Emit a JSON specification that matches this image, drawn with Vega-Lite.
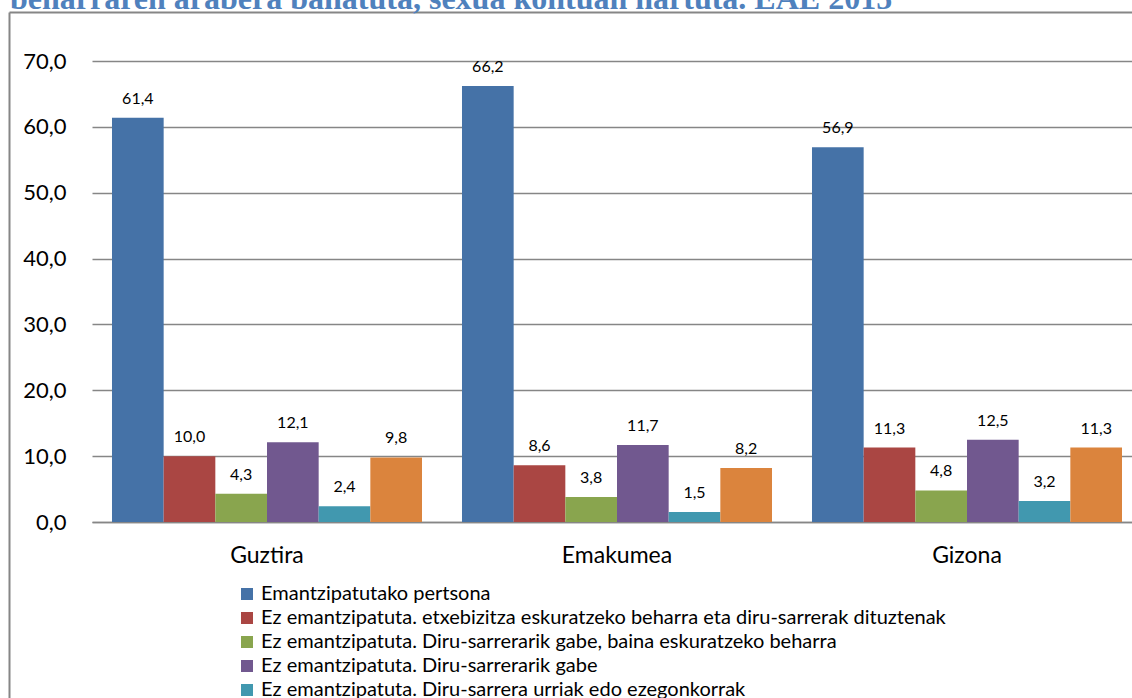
{
  "$schema": "https://vega.github.io/schema/vega-lite/v6.json",
  "autosize": {"type": "none"},
  "width": 1040,
  "height": 461,
  "padding": {"left": 92, "top": 61, "right": 0, "bottom": 176},
  "background": "white",
  "title": {
    "text": "beharraren arabera banatuta, sexua kontuan hartuta. EAE 2015",
    "anchor": "start",
    "frame": "group",
    "dx": -82,
    "offset": -29,
    "baseline": "alphabetic",
    "font": "Liberation Serif",
    "fontSize": 32,
    "fontWeight": "bold",
    "color": "#4F81BD"
  },
  "config": {
    "locale": {"number": {"decimal": ",", "thousands": ".", "grouping": [3], "currency": ["", " €"]}},
    "view": {"stroke": null},
    "font": "Lato"
  },
  "data": {
    "values": [
      {"group": "Guztira", "series": "Emantzipatutako pertsona", "value": 61.4},
      {"group": "Guztira", "series": "Ez emantzipatuta. etxebizitza eskuratzeko beharra eta diru-sarrerak dituztenak", "value": 10.0},
      {"group": "Guztira", "series": "Ez emantzipatuta. Diru-sarrerarik gabe, baina eskuratzeko beharra", "value": 4.3},
      {"group": "Guztira", "series": "Ez emantzipatuta. Diru-sarrerarik gabe", "value": 12.1},
      {"group": "Guztira", "series": "Ez emantzipatuta. Diru-sarrera urriak edo ezegonkorrak", "value": 2.4},
      {"group": "Guztira", "series": "Ez emantzipatuta. Emantzipatzeko beharrik gabe", "value": 9.8},
      {"group": "Emakumea", "series": "Emantzipatutako pertsona", "value": 66.2},
      {"group": "Emakumea", "series": "Ez emantzipatuta. etxebizitza eskuratzeko beharra eta diru-sarrerak dituztenak", "value": 8.6},
      {"group": "Emakumea", "series": "Ez emantzipatuta. Diru-sarrerarik gabe, baina eskuratzeko beharra", "value": 3.8},
      {"group": "Emakumea", "series": "Ez emantzipatuta. Diru-sarrerarik gabe", "value": 11.7},
      {"group": "Emakumea", "series": "Ez emantzipatuta. Diru-sarrera urriak edo ezegonkorrak", "value": 1.5},
      {"group": "Emakumea", "series": "Ez emantzipatuta. Emantzipatzeko beharrik gabe", "value": 8.2},
      {"group": "Gizona", "series": "Emantzipatutako pertsona", "value": 56.9},
      {"group": "Gizona", "series": "Ez emantzipatuta. etxebizitza eskuratzeko beharra eta diru-sarrerak dituztenak", "value": 11.3},
      {"group": "Gizona", "series": "Ez emantzipatuta. Diru-sarrerarik gabe, baina eskuratzeko beharra", "value": 4.8},
      {"group": "Gizona", "series": "Ez emantzipatuta. Diru-sarrerarik gabe", "value": 12.5},
      {"group": "Gizona", "series": "Ez emantzipatuta. Diru-sarrera urriak edo ezegonkorrak", "value": 3.2},
      {"group": "Gizona", "series": "Ez emantzipatuta. Emantzipatzeko beharrik gabe", "value": 11.3}
    ]
  },
  "resolve": {"scale": {"x": "independent", "y": "independent"}},
  "layer": [
    {
      "encoding": {
        "x": {
          "field": "group",
          "type": "nominal",
          "sort": ["Guztira", "Emakumea", "Gizona"],
          "scale": {"range": [0, 1050], "paddingInner": 0, "paddingOuter": 0},
          "axis": {
            "title": null,
            "labelAngle": 0,
            "ticks": false,
            "domain": true,
            "domainColor": "#868686",
            "domainWidth": 1.5,
            "labelFontSize": 23,
            "labelColor": "#000000",
            "labelPadding": 22
          }
        },
        "xOffset": {
          "field": "series",
          "type": "nominal",
          "sort": [
            "Emantzipatutako pertsona",
            "Ez emantzipatuta. etxebizitza eskuratzeko beharra eta diru-sarrerak dituztenak",
            "Ez emantzipatuta. Diru-sarrerarik gabe, baina eskuratzeko beharra",
            "Ez emantzipatuta. Diru-sarrerarik gabe",
            "Ez emantzipatuta. Diru-sarrera urriak edo ezegonkorrak",
            "Ez emantzipatuta. Emantzipatzeko beharrik gabe"
          ],
          "scale": {"paddingInner": 0, "paddingOuter": 0.387}
        },
        "y": {
          "field": "value",
          "type": "quantitative",
          "scale": {"domain": [0, 70], "nice": false},
          "axis": {
            "title": null,
            "values": [0, 10, 20, 30, 40, 50, 60, 70],
            "format": ".1f",
            "ticks": false,
            "domain": false,
            "grid": true,
            "gridColor": "#868686",
            "gridWidth": 1.5,
            "labelFontSize": 22,
            "labelColor": "#000000",
            "labelPadding": 26
          }
        }
      },
      "layer": [
        {
          "mark": {"type": "bar"},
          "encoding": {
            "color": {
              "field": "series",
              "type": "nominal",
              "sort": [
                "Emantzipatutako pertsona",
                "Ez emantzipatuta. etxebizitza eskuratzeko beharra eta diru-sarrerak dituztenak",
                "Ez emantzipatuta. Diru-sarrerarik gabe, baina eskuratzeko beharra",
                "Ez emantzipatuta. Diru-sarrerarik gabe",
                "Ez emantzipatuta. Diru-sarrera urriak edo ezegonkorrak",
                "Ez emantzipatuta. Emantzipatzeko beharrik gabe"
              ],
              "scale": {"range": ["#4572A7", "#AA4643", "#89A54E", "#71588F", "#4198AF", "#DB843D"]},
              "legend": {
                "title": null,
                "orient": "none",
                "legendX": 145,
                "legendY": 523,
                "symbolType": "square",
                "symbolSize": 144,
                "symbolStrokeWidth": 0,
                "labelFontSize": 20,
                "labelColor": "#000000",
                "labelLimit": 900,
                "rowPadding": 4,
                "labelOffset": 4
              }
            }
          }
        },
        {
          "mark": {"type": "text", "baseline": "alphabetic", "dy": -14, "fontSize": 16, "color": "#000000"},
          "encoding": {
            "text": {"field": "value", "type": "quantitative", "format": ".1f"}
          }
        }
      ]
    },
    {
      "mark": {"type": "point", "opacity": 0},
      "encoding": {
        "x": {
          "field": "group",
          "type": "nominal",
          "scale": {"range": [-83, 1050]},
          "axis": {"orient": "top", "offset": 49, "labels": false, "ticks": false, "grid": false, "title": null, "domainColor": "#868686", "domainWidth": 2}
        },
        "y": {
          "field": "value",
          "type": "quantitative",
          "scale": {"range": [637, -49]},
          "axis": {"orient": "left", "offset": 83, "labels": false, "ticks": false, "grid": false, "title": null, "domainColor": "#868686", "domainWidth": 2}
        }
      }
    }
  ]
}
